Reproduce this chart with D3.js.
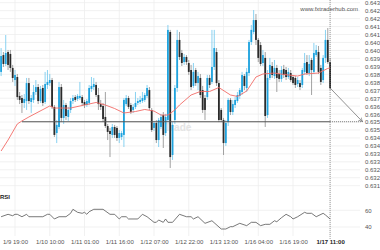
<!DOCTYPE html>
<html>
<head>
<meta charset="utf-8">
<script src="https://cdn.jsdelivr.net/npm/d3@7"></script>
<style>
  body { margin: 0; background: #fff; }
  svg { display: block; font-family: "Liberation Sans", Arial, sans-serif; }
</style>
</head>
<body>
<div id="chart"></div>
<script>
// hourly candles, 1/9 13:00 .. 1/17 11:00
const open = [0.63865,0.63971,0.63915,0.63990,0.63978,0.63890,0.63814,0.63833,0.63714,0.63701,
  0.63670,0.63682,0.63795,0.63676,0.63689,0.63739,0.63770,0.63682,0.63764,0.63676,
  0.63783,0.63795,0.63814,0.63645,0.63481,0.63519,0.63770,0.63576,0.63657,0.63582,
  0.63626,0.63682,0.63707,0.63695,0.63701,0.63707,0.63676,0.63657,0.63670,0.63758,
  0.63770,0.63783,0.63720,0.63663,0.63651,0.63582,0.63525,0.63494,0.63469,0.63519,
  0.63513,0.63450,0.63456,0.63469,0.63663,0.63701,0.63657,0.63626,0.63645,0.63670,
  0.63676,0.63682,0.63689,0.63714,0.63751,0.63626,0.63513,0.63544,0.63437,0.63519,
  0.63594,0.63481,0.63563,0.64116,0.63343,0.63563,0.63764,0.64066,0.63984,0.63927,
  0.63959,0.63921,0.63877,0.63777,0.63877,0.63795,0.63827,0.63751,0.63701,0.63707,
  0.63827,0.63802,0.63896,0.63990,0.63795,0.63626,0.63563,0.63418,0.63550,0.63689,
  0.63613,0.63657,0.63682,0.63714,0.63739,0.63839,0.63764,0.63858,0.64053,0.64116,
  0.64191,0.64066,0.64034,0.63921,0.63953,0.63594,0.63827,0.63902,0.63839,0.63890,
  0.63852,0.63821,0.63883,0.63877,0.63833,0.63858,0.63833,0.63827,0.63789,0.63795,
  0.63783,0.63865,0.63927,0.63858,0.63940,0.63865,0.63971,0.63990,0.63890,0.63814,
  0.63953,0.64066,0.63927];
const high = [0.64015,0.63990,0.64097,0.64003,0.64003,0.63909,0.63877,0.63852,0.63739,0.63720,
  0.63726,0.63827,0.63827,0.63720,0.63783,0.63814,0.63789,0.63777,0.63783,0.63865,
  0.63877,0.63852,0.63827,0.63657,0.63563,0.63802,0.63789,0.63689,0.63670,0.63645,
  0.63701,0.63720,0.63720,0.63726,0.63802,0.63720,0.63689,0.63695,0.63783,0.63833,
  0.63827,0.63802,0.63764,0.63689,0.63670,0.63739,0.63538,0.63513,0.63538,0.63532,
  0.63525,0.63500,0.63494,0.63701,0.63720,0.63714,0.63670,0.63663,0.63739,0.63701,
  0.63714,0.63739,0.63733,0.63783,0.63770,0.63638,0.63557,0.63563,0.63576,0.63601,
  0.63613,0.63601,0.64160,0.64129,0.63550,0.63783,0.64129,0.64116,0.64003,0.63978,
  0.63971,0.63940,0.63909,0.63921,0.63890,0.63865,0.63852,0.63777,0.63720,0.63846,
  0.63846,0.64129,0.64129,0.64015,0.63814,0.63638,0.63576,0.63563,0.63701,0.63701,
  0.63689,0.63707,0.63739,0.63764,0.63865,0.63852,0.63890,0.64066,0.64160,0.64254,
  0.64229,0.64078,0.64053,0.64003,0.63990,0.63877,0.63953,0.63927,0.63940,0.63909,
  0.63877,0.63902,0.63909,0.63896,0.63890,0.63877,0.63846,0.63839,0.63833,0.63814,
  0.63890,0.63984,0.63971,0.63971,0.63953,0.64047,0.64034,0.64028,0.63909,0.63971,
  0.64129,0.64141,0.63953];
const low = [0.63839,0.63896,0.63902,0.63877,0.63865,0.63802,0.63777,0.63689,0.63663,0.63607,
  0.63638,0.63626,0.63663,0.63607,0.63670,0.63720,0.63663,0.63670,0.63651,0.63663,
  0.63758,0.63777,0.63632,0.63456,0.63418,0.63506,0.63550,0.63538,0.63563,0.63557,
  0.63607,0.63663,0.63676,0.63682,0.63689,0.63651,0.63638,0.63645,0.63657,0.63739,
  0.63751,0.63707,0.63626,0.63626,0.63550,0.63513,0.63437,0.63330,0.63450,0.63450,
  0.63431,0.63418,0.63437,0.63393,0.63651,0.63632,0.63601,0.63607,0.63632,0.63657,
  0.63663,0.63670,0.63676,0.63701,0.63626,0.63488,0.63494,0.63418,0.63393,0.63506,
  0.63387,0.63462,0.63550,0.63261,0.63312,0.63538,0.63739,0.63940,0.63902,0.63909,
  0.63909,0.63846,0.63751,0.63764,0.63777,0.63751,0.63701,0.63607,0.63563,0.63689,
  0.63764,0.63789,0.63877,0.63777,0.63550,0.63550,0.63343,0.63400,0.63525,0.63594,
  0.63594,0.63638,0.63670,0.63695,0.63720,0.63751,0.63739,0.63839,0.64034,0.64103,
  0.64034,0.63927,0.63902,0.63902,0.63519,0.63576,0.63814,0.63827,0.63821,0.63739,
  0.63802,0.63802,0.63827,0.63814,0.63821,0.63802,0.63783,0.63764,0.63770,0.63751,
  0.63764,0.63846,0.63846,0.63839,0.63720,0.63852,0.63959,0.63852,0.63783,0.63795,
  0.63921,0.63915,0.63751];
const close = [0.63965,0.63915,0.63984,0.63909,0.63890,0.63827,0.63846,0.63707,0.63689,0.63670,
  0.63695,0.63795,0.63682,0.63701,0.63739,0.63770,0.63682,0.63758,0.63670,0.63789,
  0.63802,0.63814,0.63645,0.63469,0.63532,0.63770,0.63576,0.63657,0.63588,0.63626,
  0.63682,0.63701,0.63689,0.63714,0.63714,0.63670,0.63657,0.63682,0.63764,0.63777,
  0.63789,0.63720,0.63663,0.63645,0.63569,0.63525,0.63488,0.63475,0.63519,0.63469,
  0.63450,0.63481,0.63481,0.63689,0.63701,0.63645,0.63613,0.63645,0.63670,0.63682,
  0.63689,0.63701,0.63720,0.63764,0.63638,0.63500,0.63544,0.63437,0.63563,0.63582,
  0.63469,0.63582,0.64129,0.63330,0.63532,0.63764,0.64066,0.63959,0.63921,0.63959,
  0.63927,0.63865,0.63770,0.63865,0.63795,0.63839,0.63720,0.63626,0.63626,0.63827,
  0.63783,0.63896,0.64015,0.63795,0.63563,0.63563,0.63418,0.63544,0.63689,0.63613,
  0.63663,0.63689,0.63720,0.63751,0.63846,0.63777,0.63865,0.64053,0.64129,0.64191,
  0.64066,0.63953,0.63915,0.63971,0.63588,0.63827,0.63909,0.63846,0.63890,0.63827,
  0.63821,0.63877,0.63846,0.63833,0.63865,0.63814,0.63795,0.63783,0.63814,0.63770,
  0.63877,0.63921,0.63858,0.63915,0.63877,0.63984,0.64003,0.63865,0.63802,0.63953,
  0.64066,0.63927,0.63764];

// moving average (red), read at these candle indexes
const maIdx = [0,3,7,9,12,21,23,30,35,41,45,49,53,58,62,66,69,72,75,77,82,86,90,94,99,102,106,110,113,118,122,128,131,137,141,142];
const maVal = [0.63368,0.63437,0.63538,0.63557,0.63582,0.63651,0.63638,0.63638,0.63654,0.63673,0.63657,0.63635,0.63607,0.63616,0.63629,0.63619,0.63594,0.63594,0.63626,0.63657,0.63720,0.63742,0.63742,0.63767,0.63720,0.63711,0.63745,0.63833,0.63852,0.63858,0.63849,0.63839,0.63852,0.63858,0.63887,0.63890];

// RSI
const rsiIdx = [0,3,5,6,7,9,11,12,18,20,21,23,25,28,30,31,33,35,36,37,38,40,44,47,49,51,52,54,55,59,61,63,66,67,68,70,71,72,74,77,80,82,83,85,88,91,95,97,99,100,103,106,108,110,112,114,116,118,119,121,123,125,126,128,131,132,134,136,139,140,142];
const rsiVal = [52.3,55.2,53.5,55.2,55.2,52.3,55.2,52.3,52.3,55.2,55.2,49.6,52.3,52.3,56.4,61.2,57.6,56.4,57.6,55.2,58.3,61.2,61.2,55.2,55.2,49.6,52.3,52.3,49.6,49.6,55.2,52.3,45.6,45.6,48.4,45.6,49.6,45.6,45.6,55.2,52.3,52.3,49.6,52.3,44.4,47.5,37.6,37.6,40.4,40.4,44.4,41.6,45.6,45.6,41.6,43.2,43.2,47.5,46.3,51.1,55.2,52.3,49.6,52.3,57.6,56.4,56.4,52.3,56.4,54.4,49.6];

const timeIdx = [6,21,36,51,66,81,96,111,126,142];
const timeLabels = ["1/9 19:00","1/10 10:00","1/11 01:00","1/11 16:00","1/12 07:00","1/12 22:00","1/13 13:00","1/16 04:00","1/16 19:00","1/17 11:00"];
const rsiTicks = [40, 60];
const level = 0.63552;     // support line
const levelStart = 9;
const targetIdx = 156;     // arrow end

const width = 380, height = 250;
const svg = d3.select("#chart").append("svg")
  .attr("width", width).attr("height", height);

const x = d3.scaleLinear().domain([0, 142]).range([1.1, 330.1]);
const y = d3.scaleLinear().domain([0.6315, 0.643]).range([185.7, 2.7]);
const yR = d3.scaleLinear().domain([40, 60]).range([227, 210.3]);

const priceTicks = d3.range(24).map(i => +(0.6315 + i * 0.0005).toFixed(4));
const trunc = v => (Math.floor(v * 1000 + 1e-6) / 1000).toFixed(3);

// grid
svg.append("g").selectAll("line").data(priceTicks).join("line")
  .attr("x1", 0).attr("x2", 360)
  .attr("y1", d => y(d)).attr("y2", d => y(d))
  .attr("stroke", "#eeeeee").attr("stroke-width", 0.8);
svg.append("g").selectAll("line").data(rsiTicks).join("line")
  .attr("x1", 0).attr("x2", 360)
  .attr("y1", d => yR(d)).attr("y2", d => yR(d))
  .attr("stroke", "#eeeeee").attr("stroke-width", 0.8);
svg.append("g").selectAll("line").data(timeIdx).join("line")
  .attr("x1", d => x(d)).attr("x2", d => x(d))
  .attr("y1", 0).attr("y2", 236)
  .attr("stroke", "#eeeeee").attr("stroke-width", 0.8);

// faint brand mark behind the candles
svg.append("text").attr("x", 178).attr("y", 131).attr("text-anchor", "middle")
  .attr("font-size", 10).attr("font-weight", "bold").attr("fill", "#e4e4e4").text("Trade");

// axes
const yAxis = svg.append("g").attr("transform", "translate(363,0)")
  .call(d3.axisRight(y).tickValues(priceTicks).tickFormat(trunc).tickSize(0).tickPadding(2));
const rAxis = svg.append("g").attr("transform", "translate(363,0)")
  .call(d3.axisRight(yR).tickValues(rsiTicks).tickSize(0).tickPadding(2));
const xAxis = svg.append("g").attr("transform", "translate(0,238)")
  .call(d3.axisBottom(x).tickValues(timeIdx).tickFormat((d, i) => timeLabels[i]).tickSize(0).tickPadding(2));
[yAxis, rAxis, xAxis].forEach(g => {
  g.select(".domain").remove();
  g.selectAll("text").attr("font-size", 6).attr("fill", "#555")
    .attr("font-family", "'Liberation Sans', Arial, sans-serif");
});
xAxis.selectAll("text").filter((d, i) => i === timeIdx.length - 1)
  .attr("fill", "#222").attr("font-weight", "bold");

// watermark
svg.append("text").attr("x", 358).attr("y", 11).attr("text-anchor", "end")
  .attr("font-size", 6).attr("fill", "#555").text("www.fxtraderhub.com");

// candles
const idx = d3.range(close.length);
const up = i => close[i] >= open[i];
svg.append("g").selectAll("line").data(idx).join("line")
  .attr("x1", i => x(i)).attr("x2", i => x(i))
  .attr("y1", i => y(high[i])).attr("y2", i => y(low[i]))
  .attr("stroke", i => up(i) ? "#6cc6ee" : "#8a8a8a").attr("stroke-width", 0.8);
svg.append("g").selectAll("rect").data(idx).join("rect")
  .attr("x", i => x(i) - 0.9).attr("width", 1.8)
  .attr("y", i => y(Math.max(open[i], close[i])))
  .attr("height", i => Math.max(0.8, Math.abs(y(open[i]) - y(close[i]))))
  .attr("fill", i => up(i) ? "#1fa3de" : "#2a2a2a");

// moving average
svg.append("path").datum(maIdx)
  .attr("fill", "none").attr("stroke", "#f26b67").attr("stroke-width", 0.9)
  .attr("d", d3.line().x(d => x(d)).y((d, i) => y(maVal[i])));

// support level + projection
svg.append("line").attr("x1", x(levelStart)).attr("x2", x(142))
  .attr("y1", y(level)).attr("y2", y(level))
  .attr("stroke", "#555").attr("stroke-width", 1.1);
svg.append("line").attr("x1", x(142)).attr("x2", x(targetIdx))
  .attr("y1", y(level)).attr("y2", y(level))
  .attr("stroke", "#555").attr("stroke-width", 0.8).attr("stroke-dasharray", "1,1");

svg.append("defs").append("marker").attr("id", "arr")
  .attr("viewBox", "0 0 10 10").attr("refX", 9).attr("refY", 5)
  .attr("markerWidth", 6).attr("markerHeight", 6).attr("orient", "auto")
  .append("path").attr("d", "M0,1 L9,5 L0,9").attr("fill", "none").attr("stroke", "#666").attr("stroke-width", 1.2);
svg.append("line").attr("x1", x(142)).attr("y1", y(close[142]))
  .attr("x2", x(targetIdx)).attr("y2", y(level))
  .attr("stroke", "#777").attr("stroke-width", 0.8).attr("marker-end", "url(#arr)");

// current time cursor
svg.append("line").attr("x1", x(142)).attr("x2", x(142)).attr("y1", 0).attr("y2", 240)
  .attr("stroke", "#777").attr("stroke-width", 0.7).attr("stroke-dasharray", "1,1");

// RSI panel
svg.append("text").attr("x", 0).attr("y", 199).attr("font-size", 6)
  .attr("font-weight", "bold").attr("fill", "#222").text("RSI");
svg.append("path").datum(rsiIdx)
  .attr("fill", "none").attr("stroke", "#555").attr("stroke-width", 0.8)
  .attr("d", d3.line().x(d => x(d)).y((d, i) => yR(rsiVal[i])));
</script>
</body>
</html>
